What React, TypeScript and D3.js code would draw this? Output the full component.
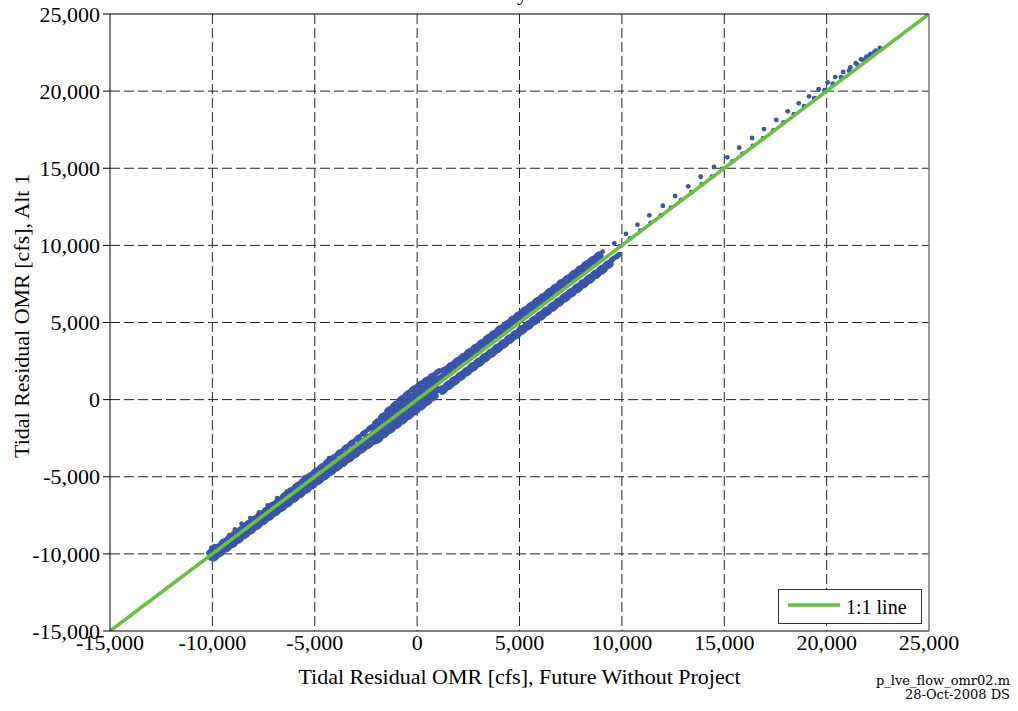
import React from "react";
import * as d3 from "d3";

const W = 1018;
const H = 711;
const M = { left: 110, top: 14, right: 89, bottom: 80 };

const xTicks = [-15000, -10000, -5000, 0, 5000, 10000, 15000, 20000, 25000];
const yTicks = [-15000, -10000, -5000, 0, 5000, 10000, 15000, 20000, 25000];
const tickLabels = ["-15,000", "-10,000", "-5,000", "0", "5,000", "10,000", "15,000", "20,000", "25,000"];
const oneToOne: [number, number][] = [[-15000, -15000], [25000, 25000]];

type P = [number, number];

const bandLeftA: P[] = [
  [-10100, -9850], [-9800, -9560], [-9500, -9230], [-9200, -8950], [-8900, -8620], [-8600, -8360], [-8300, -8030],
  [-8000, -7740], [-7700, -7420], [-7400, -7150], [-7100, -6820], [-6800, -6530], [-6500, -6200], [-6200, -5880],
  [-5900, -5570], [-5600, -5260], [-5300, -4950], [-5000, -4640], [-4700, -4350], [-4400, -4030], [-4100, -3740],
  [-3800, -3420], [-3500, -3110], [-3200, -2800], [-2900, -2490], [-2600, -2160], [-2300, -1840],
];
const bandLeftB: P[] = [
  [-9950, -9950], [-9650, -9660], [-9350, -9340], [-9050, -9060], [-8750, -8740], [-8450, -8460], [-8150, -8150],
  [-7850, -7860], [-7550, -7540], [-7250, -7250], [-6950, -6960], [-6650, -6640], [-6350, -6360], [-6050, -6050],
  [-5750, -5760], [-5450, -5440], [-5150, -5150], [-4850, -4860], [-4550, -4540], [-4250, -4250], [-3950, -3960],
  [-3650, -3640], [-3350, -3350], [-3050, -3060], [-2750, -2740], [-2450, -2450], [-2150, -2160],
];
const bandLeftC: P[] = [
  [-10000, -10200], [-9700, -9900], [-9400, -9610], [-9100, -9300], [-8800, -9000], [-8500, -8710], [-8200, -8400],
  [-7900, -8110], [-7600, -7800], [-7300, -7510], [-7000, -7220], [-6700, -6900], [-6400, -6610], [-6100, -6320],
  [-5800, -6010], [-5500, -5720], [-5200, -5420], [-4900, -5120], [-4600, -4830], [-4300, -4520], [-4000, -4230],
  [-3700, -3930], [-3400, -3640], [-3100, -3340], [-2800, -3050], [-2500, -2750], [-2200, -2460],
];
const bandLeftD: P[] = [
  [-9850, -10250], [-9550, -9950], [-9250, -9670], [-8950, -9380], [-8650, -9090], [-8350, -8790], [-8050, -8500],
  [-7750, -8200], [-7450, -7910], [-7150, -7620], [-6850, -7330], [-6550, -7030], [-6250, -6750], [-5950, -6450],
  [-5650, -6160], [-5350, -5870], [-5050, -5580], [-4750, -5290], [-4450, -5000], [-4150, -4710], [-3850, -4420],
  [-3550, -4130], [-3250, -3840], [-2950, -3550], [-2650, -3260], [-2350, -2980], [-2050, -2700],
];
const bandCenter: P[] = [
  [-2000, -1450], [-1700, -1050], [-1400, -650], [-1100, -300], [-800, 60], [-500, 380], [-200, 700], [100, 980], [400, 1250], [700, 1520], [1000, 1800],
  [-1850, -1350], [-1550, -1040], [-1250, -750], [-950, -440], [-650, -150], [-350, 160], [-50, 460], [250, 760], [550, 1040], [850, 1350],
  [-2000, -1790], [-1700, -1500], [-1400, -1200], [-1100, -890], [-800, -600], [-500, -300], [-200, 0], [100, 300], [400, 600], [700, 890], [1000, 1200],
  [-1850, -1950], [-1550, -1650], [-1250, -1350], [-950, -1050], [-650, -750], [-350, -450], [-50, -150], [250, 150], [550, 450], [850, 750],
  [-2000, -2420], [-1700, -2110], [-1400, -1800], [-1100, -1510], [-800, -1200], [-500, -900], [-200, -610], [100, -300], [400, 0], [700, 300], [1000, 600],
  [-1850, -2600], [-1550, -2270], [-1250, -1980], [-950, -1680], [-650, -1380], [-350, -1080], [-50, -780], [250, -480], [550, -170], [850, 140],
];
const upperBandA: P[] = [
  [1300, 1930], [1600, 2220], [1900, 2520], [2200, 2800], [2500, 3110], [2800, 3400], [3100, 3700], [3400, 4010],
  [3700, 4300], [4000, 4620], [4300, 4900], [4600, 5210], [4900, 5500], [5200, 5810], [5500, 6100], [5800, 6410],
  [6100, 6690], [6400, 7010], [6700, 7290], [7000, 7600], [7300, 7880], [7600, 8190], [7900, 8480], [8200, 8790],
  [8500, 9070], [8800, 9360],
];
const upperBandB: P[] = [
  [1150, 1450], [1450, 1760], [1750, 2040], [2050, 2360], [2350, 2650], [2650, 2960], [2950, 3250], [3250, 3560],
  [3550, 3850], [3850, 4160], [4150, 4450], [4450, 4760], [4750, 5050], [5050, 5360], [5350, 5650], [5650, 5960],
  [5950, 6250], [6250, 6560], [6550, 6850], [6850, 7160], [7150, 7450], [7450, 7760], [7750, 8050], [8050, 8360],
  [8350, 8650], [8650, 8950], [8900, 9230],
];
const lowerBandA: P[] = [
  [1150, 700], [1450, 1000], [1750, 1300], [2050, 1600], [2350, 1890], [2650, 2200], [2950, 2500], [3250, 2800],
  [3550, 3100], [3850, 3400], [4150, 3700], [4450, 4000], [4750, 4300], [5050, 4600], [5350, 4900], [5650, 5200],
  [5950, 5500], [6250, 5800], [6550, 6100], [6850, 6400], [7150, 6700], [7450, 7000], [7750, 7300], [8050, 7600],
  [8350, 7900], [8650, 8200], [8950, 8500], [9250, 8800], [9550, 9100], [9800, 9330],
];
const lowerBandB: P[] = [
  [1300, 550], [1600, 850], [1900, 1150], [2200, 1450], [2500, 1750], [2800, 2050], [3100, 2350], [3400, 2650],
  [3700, 2950], [4000, 3250], [4300, 3550], [4600, 3850], [4900, 4150], [5200, 4450], [5500, 4750], [5800, 5050],
  [6100, 5350], [6400, 5650], [6700, 5950], [7000, 6250], [7300, 6550], [7600, 6850], [7900, 7150], [8200, 7450],
  [8500, 7750], [8800, 8050], [9100, 8350], [9400, 8700],
];
const onLineHigh: P[] = [
  [9900, 9950], [10400, 10450], [10900, 10950], [11400, 11450], [11900, 11950], [12400, 12450], [12900, 12950],
  [13400, 13450], [13900, 13950], [14400, 14450], [14900, 14950], [15400, 15450], [15900, 15950], [16400, 16450],
  [16900, 16950], [17400, 17460], [17900, 17980], [18400, 18500], [18900, 19020], [19400, 19540], [19900, 20060],
  [20300, 20480], [20700, 20900], [21100, 21320], [21500, 21720], [21800, 22030], [22100, 22330], [22400, 22620],
  [22600, 22800],
];
const sparseHigh: P[] = [
  [9060, 9590], [9630, 10130], [10200, 10740], [10760, 11340], [11340, 11950], [12000, 12570], [12600, 13200],
  [13240, 13830], [13850, 14450], [14500, 15080], [15150, 15710], [15730, 16330], [16360, 16960], [16940, 17540],
  [17540, 18130], [18100, 18690], [18640, 19210], [19140, 19660], [19610, 20120], [20050, 20570], [20420, 20910],
  [20810, 21240], [21160, 21540], [21420, 21820], [21680, 22060], [21940, 22230], [22150, 22410], [22330, 22530],
];
const sparseLow: P[] = [
  [-10050, -9600], [-9900, -9500], [-9530, -9210], [-9170, -8780], [-8900, -8410], [-8570, -8040], [-8150, -7680],
  [-7720, -7310], [-7300, -6850], [-6830, -6380], [-6370, -5970], [-5500, -5050], [-4300, -3800],
];

const densePoints: P[] = [
  ...bandLeftA, ...bandLeftB, ...bandLeftC, ...bandLeftD, ...bandCenter,
  ...upperBandA, ...upperBandB, ...lowerBandA, ...lowerBandB,
];
const sparsePoints: P[] = [...onLineHigh, ...sparseHigh, ...sparseLow];

const BLUE = "#3a55a7";
const GREEN = "#6abd45";
const FONT = "'Liberation Serif', 'Times New Roman', serif";

export default function App() {
  const x = d3.scaleLinear().domain([-15000, 25000]).range([M.left, W - M.right]);
  const y = d3.scaleLinear().domain([-15000, 25000]).range([H - M.bottom, M.top]);
  const line = d3.line<P>().x((d) => x(d[0])).y((d) => y(d[1]));
  const x0 = x(-15000), x1 = x(25000), y0 = y(-15000), y1 = y(25000);
  const angle = (Math.atan2(y(1000) - y(0), x(1000) - x(0)) * 180) / Math.PI;

  return (
    <svg width={W} height={H} style={{ position: "absolute", left: 0, top: 0, background: "#fff" }} fontFamily={FONT}>
      <rect x={0} y={0} width={W} height={H} fill="#fff" />
      <defs>
        <clipPath id="plot">
          <rect x={x0} y={y1} width={x1 - x0} height={y0 - y1} />
        </clipPath>
      </defs>
      <text x={528} y={0} textAnchor="end" fontSize={22}>Daily</text>
      {xTicks.slice(1, -1).map((t) => (
        <line key={"gx" + t} x1={x(t)} x2={x(t)} y1={y1} y2={y0} stroke="#222" strokeWidth={1} strokeDasharray="10,4" />
      ))}
      {yTicks.slice(1, -1).map((t) => (
        <line key={"gy" + t} x1={x0} x2={x1} y1={y(t)} y2={y(t)} stroke="#222" strokeWidth={1} strokeDasharray="10,4" />
      ))}
      <g clipPath="url(#plot)">
        {densePoints.map((d, i) => (
          <ellipse key={"d" + i} cx={0} cy={0} rx={4.8} ry={2.9} fill={BLUE}
            transform={`translate(${x(d[0])},${y(d[1])}) rotate(${angle})`} />
        ))}
        {sparsePoints.map((d, i) => (
          <circle key={"s" + i} cx={x(d[0])} cy={y(d[1])} r={2.4} fill={BLUE} />
        ))}
        <path d={line(oneToOne) || ""} stroke={GREEN} strokeWidth={3.6} fill="none" />
      </g>
      <line x1={x0} x2={x0} y1={y1} y2={y0} stroke="#000" />
      <line x1={x0} x2={x1} y1={y0} y2={y0} stroke="#000" />
      <line x1={x0} x2={x1} y1={y1} y2={y1} stroke="#000" />
      <line x1={x1} x2={x1} y1={y1} y2={y0} stroke="#777" strokeWidth={1.5} />
      {yTicks.map((t, i) => (
        <g key={"yt" + t}>
          <line x1={x0 - 7} x2={x0} y1={y(t)} y2={y(t)} stroke="#000" />
          <text x={x0 - 10} y={y(t)} dy="0.35em" textAnchor="end" fontSize={22}>{tickLabels[i]}</text>
        </g>
      ))}
      {xTicks.map((t, i) => (
        <text key={"xt" + t} x={x(t)} y={650} textAnchor="middle" fontSize={22}>{tickLabels[i]}</text>
      ))}
      <text x={(x0 + x1) / 2} y={684} textAnchor="middle" fontSize={22}>Tidal Residual OMR [cfs], Future Without Project</text>
      <text transform={`translate(29, 316) rotate(-90)`} textAnchor="middle" fontSize={22}>Tidal Residual OMR [cfs], Alt 1</text>
      <rect x={778.5} y={589.5} width={143} height={34} fill="#fff" stroke="#333" />
      <line x1={788} x2={840} y1={605} y2={605} stroke={GREEN} strokeWidth={3.6} />
      <text x={846} y={614} fontSize={20}>1:1 line</text>
      <text x={1010} y={685} textAnchor="end" fontSize={13} fontFamily="'DejaVu Serif', serif">p_lve_flow_omr02.m</text>
      <text x={1010} y={699} textAnchor="end" fontSize={13} fontFamily="'DejaVu Serif', serif">28-Oct-2008 DS</text>
    </svg>
  );
}
